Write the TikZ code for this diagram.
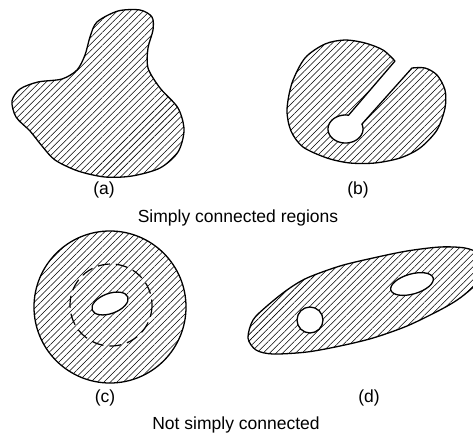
\documentclass[tikz,border=0pt]{standalone}
\usepackage{fontspec}
\setmainfont{Liberation Sans}
\usetikzlibrary{patterns.meta}
\begin{document}
\begin{tikzpicture}[x=1pt,y=-1pt,
  outline/.style={line width=1.3pt, line join=round},
  hatch/.style={pattern={Lines[angle=45,distance=4.6pt,line width=0.55pt]}},
  hole/.style={fill=white, line width=1.3pt},
  dashring/.style={line width=1.2pt, dash pattern=on 12pt off 6pt},
  lbl/.style={font=\fontsize{17.5}{20}\selectfont, anchor=base, inner sep=0pt}]
\useasboundingbox (0,0) rectangle (473,434);
% (a)
\draw[outline,hatch] plot[smooth cycle] coordinates {
  (97,22) (118,11) (140,10) (152,17) (153,30) (148,48) (148,68) (160,88)
  (178,108) (184,130) (178,152) (160,168) (132,176) (105,177) (78,171)
  (55,160) (42,146) (30,131) (16,117) (12,101) (20,89) (38,82) (62,79)
  (77,70) (85,55) (90,37)};
\node[lbl] (la) at (104,194) {(a)};
% (b)
\draw[outline,hatch] plot[smooth] coordinates {
  (395,61) (383,50) (365,43) (345,40) (325,44) (305,58) (292,83) (287,110)
  (291,131) (303,147) (327,158) (350,163) (375,163) (400,158) (420,148)
  (437,130) (445,108) (445,90) (437,75) (425,68) (412,68)}
  -- (362,124)
  -- plot[domain=-21:280, samples=50] ({345.5+17.5*cos(\x)},{129+14*sin(\x)})
  -- cycle;
\node[lbl] (lb) at (358,194) {(b)};
\node[lbl] (t1) at (238,222) {Simply connected regions};
% (c)
\draw[outline,hatch] (110,307) circle[radius=76];
\draw[dashring] (111,305) circle[radius=41];
\draw[hole, rotate around={20:(110,303.5)}] (110,303.5) ellipse[x radius=19, y radius=10];
\node[lbl] (lc) at (105,402) {(c)};
% (d)
\begin{scope}
\clip (0,0) rectangle (473,434);
\draw[outline,hatch] plot[smooth cycle] coordinates {
  (248,338) (253,320) (267,306) (287,290) (307,278) (340,266) (373,258)
  (407,251) (440,247) (465,248) (480,254) (486,265) (478,282) (460,298)
  (440,310) (407,326) (373,338) (340,346) (307,352) (273,354) (256,350)};
\end{scope}
\draw[hole] (310,320) circle[radius=13];
\draw[hole, rotate around={16:(412,284)}] (412,284) ellipse[x radius=22, y radius=10];
\node[lbl] (ld) at (369,402) {(d)};
\node[lbl] (t2) at (236,429) {Not simply connected};
\end{tikzpicture}
\end{document}
